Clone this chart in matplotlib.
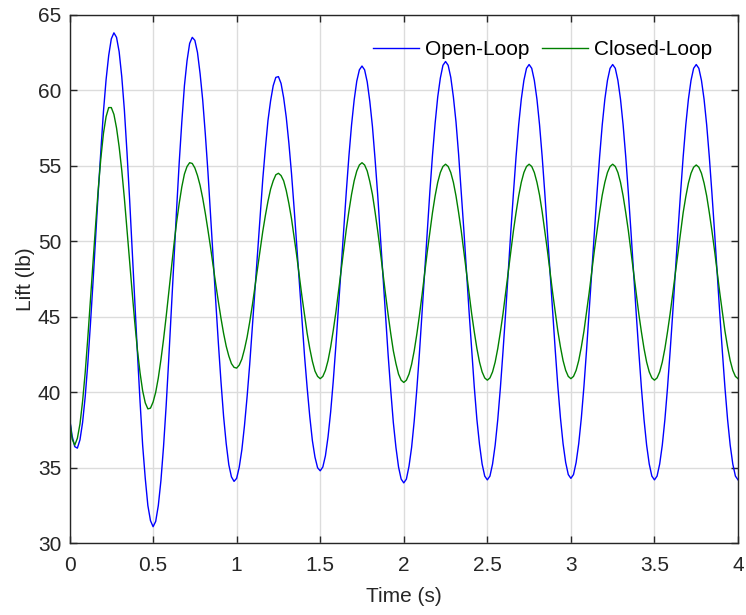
import numpy as np
import matplotlib.pyplot as plt
from matplotlib.ticker import FormatStrFormatter

# samples every 1/64 s from 0 to 4 s
time_s = np.linspace(0, 4, 257)

open_loop = [
    38.3, 37.1, 36.4, 36.3, 36.85, 38.0, 39.7, 41.9, 44.5, 47.3, 50.3, 53.25, 56.0, 58.6, 60.7, 62.3,
    63.4, 63.8, 63.5, 62.55, 60.9, 58.7, 55.9, 52.8, 49.4, 46.0, 42.6, 39.4, 36.5, 34.3, 32.5, 31.5,
    31.1, 31.45, 32.5, 34.15, 36.4, 39.1, 42.2, 45.45, 48.8, 52.1, 55.2, 57.9, 60.3, 61.95, 63.1, 63.5,
    63.3, 62.5, 61.1, 59.35, 57.1, 54.6, 51.8, 48.9, 46.0, 43.25, 40.7, 38.4, 36.6, 35.2, 34.4, 34.1,
    34.3, 35.05, 36.2, 37.8, 39.7, 41.85, 44.3, 46.75, 49.3, 51.75, 54.1, 56.15, 58.0, 59.3, 60.3, 60.85,
    60.9, 60.45, 59.5, 58.2, 56.5, 54.5, 52.2, 49.8, 47.3, 44.8, 42.4, 40.3, 38.4, 36.8, 35.7, 35.0,
    34.8,
    35.05, 35.8, 37.05, 38.7, 40.75, 43.1, 45.6, 48.2, 50.8, 53.3, 55.65, 57.7, 59.35, 60.6, 61.35, 61.6,
    61.35, 60.55, 59.25, 57.6, 55.45, 53.1, 50.5, 47.8, 45.1, 42.5, 40.15, 38.0, 36.35, 35.05, 34.25, 34.0,
    34.25, 35.1, 36.35, 38.1, 40.2, 42.6, 45.25, 48.0, 50.65, 53.3, 55.7, 57.8, 59.55, 60.8, 61.65, 61.9,
    61.65, 60.85, 59.55, 57.9, 55.75, 53.3, 50.75, 48.05, 45.35, 42.8, 40.35, 38.2, 36.55, 35.25, 34.45, 34.2,
    34.45, 35.25, 36.5, 38.2, 40.3, 42.7, 45.25, 47.95, 50.65, 53.2, 55.6, 57.7, 59.4, 60.65, 61.45, 61.7,
    61.45, 60.65, 59.4, 57.7, 55.6, 53.2, 50.65, 48.0, 45.35, 42.8, 40.4, 38.3, 36.6, 35.35, 34.55, 34.3,
    34.55, 35.35, 36.6, 38.3, 40.4, 42.8, 45.35, 48.0, 50.65, 53.2, 55.6, 57.7, 59.4, 60.65, 61.45, 61.7,
    61.45, 60.65, 59.4, 57.7, 55.6, 53.2, 50.65, 47.95, 45.25, 42.7, 40.3, 38.2, 36.5, 35.25, 34.45, 34.2,
    34.45, 35.25, 36.5, 38.2, 40.3, 42.7, 45.25, 47.95, 50.65, 53.2, 55.6, 57.7, 59.4, 60.65, 61.45, 61.7,
    61.45, 60.65, 59.4, 57.7, 55.6, 53.2, 50.65, 47.95, 45.25, 42.7, 40.3, 38.2, 36.5, 35.25, 34.45, 34.2,
]

closed_loop = [
    38.3, 36.9, 36.5, 36.95, 37.9, 39.4, 41.3, 43.6, 46.1, 48.6, 51.1, 53.45, 55.5, 57.15, 58.25, 58.85,
    58.85, 58.4, 57.5, 56.25, 54.7, 52.85, 50.8, 48.7, 46.6, 44.6, 42.8, 41.3, 40.1, 39.3, 38.9, 38.95,
    39.35, 40.0, 40.95, 42.15, 43.5, 45.0, 46.6, 48.2, 49.8, 51.25, 52.5, 53.6, 54.45, 54.95, 55.2, 55.15,
    54.85, 54.35, 53.7, 52.85, 51.85, 50.75, 49.6, 48.35, 47.15, 46.0, 44.9, 43.9, 43.05, 42.4, 41.9, 41.65,
    41.6, 41.8, 42.2, 42.85, 43.65, 44.65, 45.75, 46.95, 48.2, 49.45, 50.65, 51.7, 52.65, 53.45, 54.0, 54.4,
    54.5,
    54.35, 54.0, 53.35, 52.5, 51.5, 50.3, 49.05, 47.7, 46.35, 45.1, 43.9, 42.9, 42.05, 41.4, 41.05, 40.9,
    41.05, 41.45, 42.1, 43.0, 44.1, 45.3, 46.65, 48.05, 49.45, 50.8, 52.0, 53.1, 54.0, 54.65, 55.05, 55.2,
    55.05, 54.65, 53.95, 53.1, 51.95, 50.7, 49.35, 47.9, 46.5, 45.15, 43.9, 42.75, 41.9, 41.2, 40.8, 40.65,
    40.8, 41.2, 41.85, 42.75, 43.85, 45.1, 46.45, 47.9, 49.3, 50.6, 51.9, 53.0, 53.9, 54.55, 54.95, 55.1,
    54.95, 54.55, 53.9, 53.0, 51.9, 50.7, 49.35, 47.95, 46.55, 45.2, 44.0, 42.9, 42.0, 41.35, 40.95, 40.8,
    40.95, 41.35, 42.0, 42.9, 44.0, 45.2, 46.55, 47.95, 49.35, 50.7, 51.9, 53.0, 53.9, 54.55, 54.95, 55.1,
    54.95, 54.55, 53.9, 53.05, 51.95, 50.7, 49.4, 48.0, 46.6, 45.3, 44.05, 43.0, 42.1, 41.45, 41.05, 40.9,
    41.05, 41.45, 42.1, 43.0, 44.05, 45.3, 46.6, 48.0, 49.4, 50.7, 51.95, 53.05, 53.9, 54.55, 54.95, 55.1,
    54.95, 54.55, 53.9, 53.0, 51.9, 50.7, 49.35, 47.95, 46.55, 45.2, 44.0, 42.9, 42.0, 41.35, 40.95, 40.8,
    40.95, 41.35, 42.0, 42.9, 44.0, 45.2, 46.55, 47.9, 49.3, 50.65, 51.9, 52.95, 53.85, 54.5, 54.9, 55.05,
    54.9, 54.5, 53.85, 53.0, 51.9, 50.7, 49.4, 48.0, 46.6, 45.3, 44.05, 43.0, 42.1, 41.45, 41.05, 40.9,
]

plt.rcParams['font.family'] = ['Liberation Sans', 'DejaVu Sans']
plt.rcParams['font.size'] = 15

fig = plt.figure(figsize=(7.46, 6.15), dpi=100)
ax = fig.add_axes([0.0932, 0.1166, 0.8961, 0.8595])

ax.plot(time_s, open_loop, color='#0000FF', lw=1.0, label='Open-Loop')
ax.plot(time_s, closed_loop, color='#008000', lw=1.0, label='Closed-Loop')

ax.set_xlim(0, 4)
ax.set_ylim(30, 65)
ax.set_xticks(np.arange(0, 4.01, 0.5))
ax.set_yticks(np.arange(30, 66, 5))
ax.xaxis.set_major_formatter(FormatStrFormatter('%g'))
ax.grid(True, color='#dcdcdc', lw=1.0)
ax.set_axisbelow(True)
ax.tick_params(direction='in', length=5, width=1.0, top=True, right=True,
               colors='#262626', labelsize=15)
ax.tick_params(axis='x', pad=9)
ax.tick_params(axis='y', pad=6)
for sp in ax.spines.values():
    sp.set_color('#262626')
    sp.set_linewidth(1.0)

ax.set_xlabel('Time (s)', fontsize=15, color='#262626', labelpad=9)
ax.set_ylabel('Lift (lb)', fontsize=15, color='#262626', labelpad=2)

ax.legend(loc='upper right', bbox_to_anchor=(0.99, 0.987), ncol=2, frameon=False,
          handlelength=2.2, handletextpad=0.3, columnspacing=0.6, fontsize=15)

fig.savefig('out.png', dpi=100)
